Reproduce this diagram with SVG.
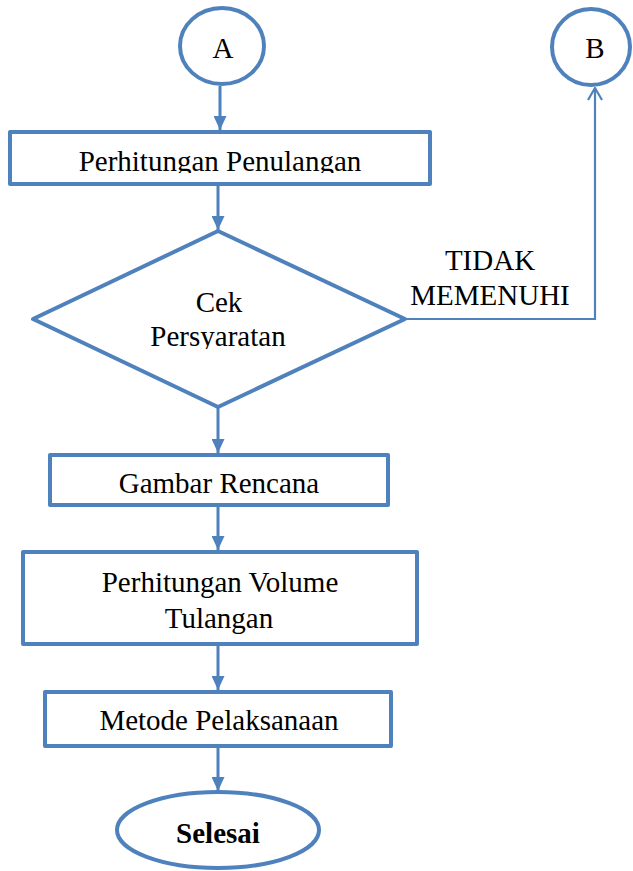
<svg xmlns="http://www.w3.org/2000/svg" width="633" height="871" viewBox="0 0 633 871">
  <defs>
    <marker id="arrowFill" viewBox="0 0 14 13" refX="14" refY="6.5" markerWidth="14" markerHeight="13" markerUnits="userSpaceOnUse" orient="auto">
      <path d="M0,0 L14,6.5 L0,13 Z" fill="#4F81BD"/>
    </marker>
    <marker id="arrowOpen" viewBox="0 0 14 16" refX="13" refY="8" markerWidth="14" markerHeight="16" markerUnits="userSpaceOnUse" orient="auto">
      <path d="M1,1 L13,8 L1,15" fill="none" stroke="#4F81BD" stroke-width="2.2"/>
    </marker>
    <clipPath id="clipBox1"><rect x="0" y="120" width="450" height="53"/></clipPath>
    <clipPath id="clipDiamond"><rect x="0" y="220" width="450" height="129"/></clipPath>
  </defs>
  <style>
    .shape { fill: #ffffff; stroke: #4F81BD; stroke-width: 4; stroke-linejoin: round; }
    .flow { fill: none; stroke: #4F81BD; stroke-width: 3; }
    .thin { fill: none; stroke: #4F81BD; stroke-width: 2.2; }
    .label { font-family: "Liberation Serif", "Times New Roman", serif; font-size: 29px; fill: #000000; text-anchor: middle; }
    .bold { font-weight: bold; }
  </style>

  <!-- connectors -->
  <g id="connectors">
    <line class="flow" x1="220" y1="86" x2="220" y2="130" marker-end="url(#arrowFill)"/>
    <line class="flow" x1="218" y1="186" x2="218" y2="230" marker-end="url(#arrowFill)"/>
    <line class="flow" x1="218" y1="408" x2="218" y2="453" marker-end="url(#arrowFill)"/>
    <line class="flow" x1="218" y1="507" x2="218" y2="550" marker-end="url(#arrowFill)"/>
    <line class="flow" x1="218" y1="646" x2="218" y2="690" marker-end="url(#arrowFill)"/>
    <line class="flow" x1="218" y1="748" x2="218" y2="791" marker-end="url(#arrowFill)"/>
    <polyline class="thin" points="405,319 595,319 595,88" marker-end="url(#arrowOpen)"/>
    <text class="label" x="490" y="270">TIDAK</text>
    <text class="label" x="490" y="305">MEMENUHI</text>
  </g>

  <!-- start connector A -->
  <g id="node-a">
    <ellipse class="shape" cx="222" cy="46" rx="42" ry="38"/>
    <text class="label" x="223" y="58">A</text>
  </g>

  <!-- off-page connector B -->
  <g id="node-b">
    <ellipse class="shape" cx="591" cy="47" rx="39" ry="38"/>
    <text class="label" x="595" y="58">B</text>
  </g>

  <!-- reinforcement calculation -->
  <g id="node-perhitungan-penulangan">
    <rect class="shape" x="10" y="132" width="420" height="52"/>
    <text class="label" x="220" y="171" clip-path="url(#clipBox1)">Perhitungan Penulangan</text>
  </g>

  <!-- requirement check -->
  <g id="node-cek-persyaratan">
    <polygon class="shape" points="218,231 405,319 218,407 33,319"/>
    <text class="label" x="219" y="312">Cek</text>
    <text class="label" x="218" y="346" clip-path="url(#clipDiamond)">Persyaratan</text>
  </g>

  <!-- drawings -->
  <g id="node-gambar-rencana">
    <rect class="shape" x="50" y="455" width="338" height="50"/>
    <text class="label" x="219" y="493">Gambar Rencana</text>
  </g>

  <!-- rebar volume -->
  <g id="node-perhitungan-volume">
    <rect class="shape" x="23" y="552" width="394" height="92"/>
    <text class="label" x="220" y="592">Perhitungan Volume</text>
    <text class="label" x="219" y="628">Tulangan</text>
  </g>

  <!-- method -->
  <g id="node-metode-pelaksanaan">
    <rect class="shape" x="45" y="692" width="346" height="54"/>
    <text class="label" x="219" y="730">Metode Pelaksanaan</text>
  </g>

  <!-- end -->
  <g id="node-selesai">
    <ellipse class="shape" cx="218" cy="830" rx="101" ry="38"/>
    <text class="label bold" x="218" y="843">Selesai</text>
  </g>
</svg>
